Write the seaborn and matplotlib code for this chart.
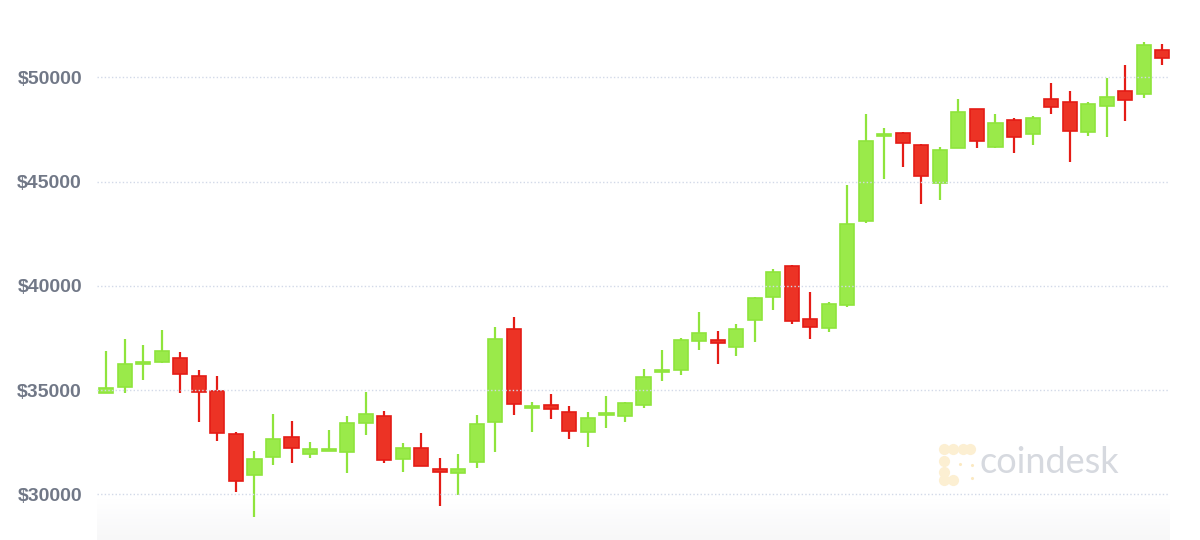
import numpy as np
import pandas as pd
import seaborn as sns
import matplotlib.pyplot as plt
from matplotlib.patches import Rectangle
from matplotlib.colors import LinearSegmentedColormap

# daily OHLC candles
opens = [34850, 35150, 36270, 36370, 36530, 35700, 34980, 32890, 30930, 31800,
         32740, 31960, 32100, 32050, 33430, 33760, 31690, 32240, 31240, 31030,
         31540, 33460, 37920, 34150, 34280, 33950, 32980, 33800, 33760, 34300,
         35880, 35950, 37340, 37390, 37070, 38370, 39450, 40950, 38400, 37970,
         39100, 43110, 47200, 47340, 46740, 44920, 46630, 48500, 46670, 47940,
         47270, 48950, 48800, 47390, 48640, 49330, 49190, 51320]
highs = [36860, 37470, 37150, 37890, 36820, 35980, 35680, 33000, 32070, 33870,
         33520, 32530, 33110, 33780, 34910, 34020, 32470, 32960, 31750, 31940,
         33830, 38040, 38510, 34450, 34800, 34260, 33950, 34720, 34450, 36030,
         36910, 37520, 38750, 37820, 38170, 39480, 40800, 41020, 39710, 39240,
         44820, 48240, 47570, 47390, 46800, 46670, 48960, 48500, 48230, 48050,
         48160, 49740, 49360, 48800, 49980, 50600, 51680, 51580]
lows = [34850, 34850, 35500, 36290, 34850, 33460, 32560, 30100, 28900, 31410,
        31500, 31740, 32070, 31020, 32850, 31510, 31090, 31380, 29460, 29980,
        31260, 32020, 33800, 32980, 33620, 32650, 32260, 33170, 33460, 34150,
        35460, 35740, 36910, 36240, 36650, 37310, 38840, 38170, 37440, 37800,
        38970, 43000, 45110, 45710, 43930, 44120, 46600, 46600, 46600, 46360,
        46750, 48230, 45950, 47200, 47120, 47900, 49020, 50600]
closes = [35090, 36270, 36350, 36890, 35760, 34930, 32930, 30650, 31690, 32650,
          32240, 32180, 32180, 33410, 33870, 31670, 32230, 31380, 31080, 31220,
          33390, 37440, 34350, 34200, 34080, 33040, 33670, 33850, 34390, 35630,
          35930, 37410, 37730, 37280, 37920, 39430, 40680, 38320, 38040, 39130,
          42970, 46930, 47250, 46870, 45280, 46520, 48350, 46930, 47820, 47140,
          48050, 48560, 47430, 48710, 49070, 48910, 51560, 50910]
ticks = [30000, 35000, 40000, 45000, 50000]

df = pd.DataFrame({"open": opens, "high": highs, "low": lows, "close": closes})
df["day"] = np.arange(len(df))
df["up"] = df["close"] >= df["open"]

sns.set_theme(style="white")
plt.rcParams["font.family"] = ["Liberation Sans", "DejaVu Sans"]

fig = plt.figure(figsize=(12, 5.4), dpi=100)
ax = fig.add_axes([0.081, 0.0, 0.894, 1.0])

green_fill, green_edge = "#9aea4a", "#8fe43c"
red_fill, red_edge = "#ec3325", "#e41c16"

w = 0.76
for _, r in df.iterrows():
    fill = green_fill if r["up"] else red_fill
    edge = green_edge if r["up"] else red_edge
    ax.vlines(r["day"], r["low"], r["high"], color=edge, lw=1.6, zorder=2)
    lo = min(r["open"], r["close"])
    h = max(abs(r["close"] - r["open"]), 90)
    ax.add_patch(Rectangle((r["day"] - w / 2, lo), w, h, facecolor=fill,
                           edgecolor=edge, lw=1.2, zorder=3))

# dotted gridlines drawn over the candles
for t in ticks:
    ax.axhline(t, color="#d2d9e8", lw=1.0, ls=(0, (1, 1.6)), zorder=5)

# faint grey fade at the bottom
fade = LinearSegmentedColormap.from_list("fade", ["#ffffff", "#f7f7f8"])
grad = np.linspace(0, 1, 100).reshape(-1, 1)
ax.imshow(grad, extent=[0, 1, 0, 0.075], transform=ax.transAxes, aspect="auto",
          cmap=fade, vmin=0, vmax=1, origin="upper", zorder=0)

ax.set_xlim(-0.49, 57.42)
ax.set_ylim(27818, 53706)
ax.set_yticks(ticks)
ax.set_yticklabels([f"${t}" for t in ticks], fontsize=14, fontweight="bold",
                   color="#717887")
ax.tick_params(axis="y", length=0, pad=11)
ax.set_xticks([])
ax.set_xlabel("")
ax.set_ylabel("")
sns.despine(ax=ax, left=True, bottom=True)

# watermark
ax.text(0.822, 0.113, "coindesk", transform=ax.transAxes, fontsize=26,
        color="#d6d9df", family="Lato", ha="left", va="bottom", zorder=1)
logo_x = [0.789, 0.798, 0.807, 0.814, 0.789, 0.789, 0.789, 0.798]
logo_y = [0.168, 0.168, 0.168, 0.168, 0.146, 0.126, 0.112, 0.112]
ax.scatter(logo_x, logo_y, s=65, color="#fcefd2", transform=ax.transAxes,
           zorder=1, linewidths=0)
ax.scatter([0.804, 0.815, 0.815], [0.141, 0.138, 0.115], s=5, color="#fbe9c2",
           transform=ax.transAxes, zorder=1, linewidths=0)

fig.savefig("out.png", dpi=100)
